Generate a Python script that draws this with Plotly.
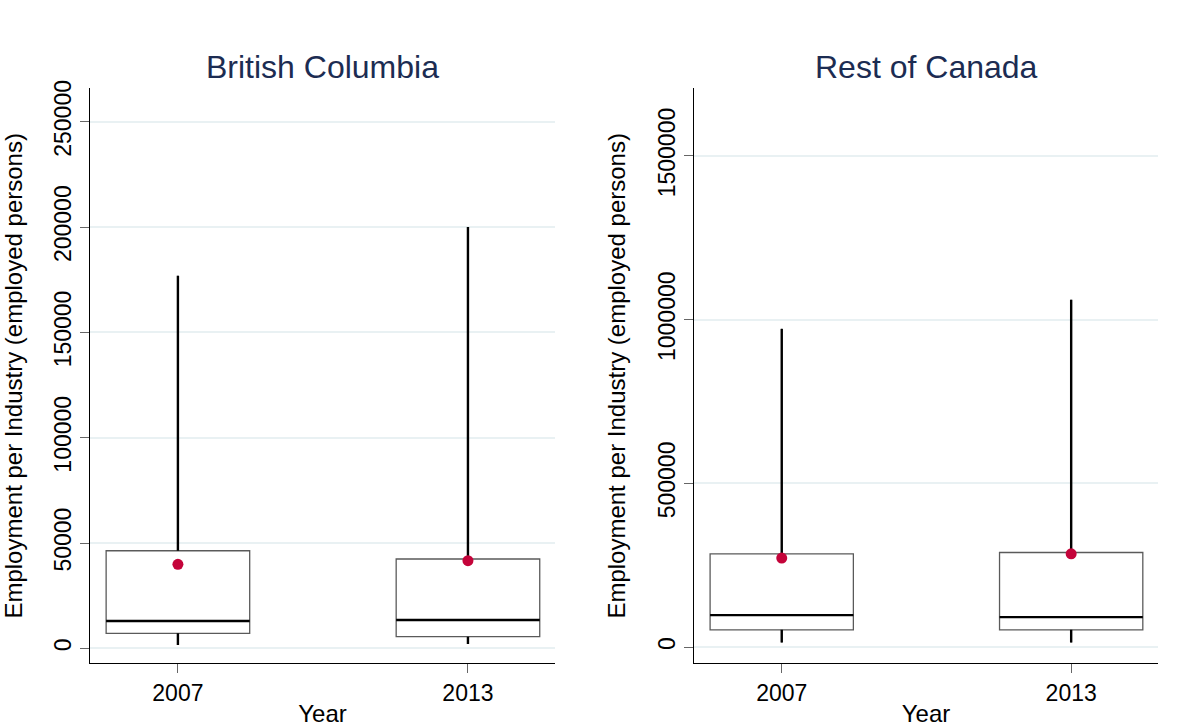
import plotly.graph_objects as go

# Summary statistics of employment per industry (employed persons)
years = ["2007", "2013"]

bc_min = [1570, 2040]
bc_q1 = [7120, 5510]
bc_median = [12960, 13440]
bc_q3 = [46340, 42400]
bc_max = [176900, 200000]
bc_mean = [39880, 41590]

roc_min = [14000, 14000]
roc_q1 = [52800, 52800]
roc_median = [97700, 91600]
roc_q3 = [284900, 288900]
roc_max = [972000, 1060700]
roc_mean = [271800, 284900]

bc_ticks = [0, 50000, 100000, 150000, 200000, 250000]
roc_ticks = [0, 500000, 1000000, 1500000]

FONT = "Arial, Liberation Sans, sans-serif"
BOX_W = 0.495
GRID = "#e9f1f3"
MEAN_RED = "#c4043a"

fig = go.Figure()


def add_panel(fig, xa, ya, mn, q1, med, q3, mx, mean):
    pos = list(range(len(years)))
    fig.add_trace(go.Box(
        x=pos, q1=q1, median=med, q3=q3, lowerfence=mn, upperfence=mx,
        width=BOX_W, whiskerwidth=0, fillcolor="white",
        line=dict(color="#5a5a5a", width=1.3), boxpoints=False,
        hoverinfo="skip", showlegend=False, xaxis=xa, yaxis=ya,
    ))
    # whiskers
    wx, wy = [], []
    for i in pos:
        wx += [i, i, None, i, i, None]
        wy += [q3[i], mx[i], None, mn[i], q1[i], None]
    fig.add_trace(go.Scatter(
        x=wx, y=wy, mode="lines", line=dict(color="black", width=2.4),
        showlegend=False, hoverinfo="skip", xaxis=xa, yaxis=ya,
    ))
    # medians
    mxs, mys = [], []
    for i in pos:
        mxs += [i - BOX_W / 2, i + BOX_W / 2, None]
        mys += [med[i], med[i], None]
    fig.add_trace(go.Scatter(
        x=mxs, y=mys, mode="lines", line=dict(color="black", width=2.4),
        showlegend=False, hoverinfo="skip", xaxis=xa, yaxis=ya,
    ))
    # means
    fig.add_trace(go.Scatter(
        x=pos, y=mean, mode="markers",
        marker=dict(color=MEAN_RED, size=11, line=dict(width=0)),
        showlegend=False, xaxis=xa, yaxis=ya,
    ))


add_panel(fig, "x", "y", bc_min, bc_q1, bc_median, bc_q3, bc_max, bc_mean)
add_panel(fig, "x2", "y2", roc_min, roc_q1, roc_median, roc_q3, roc_max, roc_mean)

tick_font = dict(family=FONT, size=23, color="black")
title_font = dict(family=FONT, size=24, color="black")

xcommon = dict(
    range=[-0.303, 1.30], tickvals=[0, 1], ticktext=years,
    showline=True, linecolor="black", linewidth=1.2,
    ticks="outside", ticklen=9, tickcolor="#666666", tickwidth=1.3,
    showgrid=False, zeroline=False, tickfont=tick_font,
    title=dict(text="Year", font=title_font, standoff=2),
    automargin=False, fixedrange=True,
)
ycommon = dict(
    showline=True, linecolor="black", linewidth=1.2,
    ticks="outside", ticklen=9, tickcolor="#666666", tickwidth=1.3,
    showgrid=True, gridcolor=GRID, gridwidth=1.5, zeroline=False,
    tickangle=-90, tickfont=tick_font,
    title=dict(text="Employment per Industry (employed persons)",
               font=title_font, standoff=21),
    automargin=False, fixedrange=True,
)

y_dom = [0.0876, 0.8785]
fig.update_layout(
    width=1202, height=727,
    margin=dict(l=0, r=0, t=0, b=0),
    paper_bgcolor="white", plot_bgcolor="white",
    font=dict(family=FONT),
    xaxis=dict(domain=[0.0749, 0.4617], anchor="y", **xcommon),
    xaxis2=dict(domain=[0.5774, 0.9634], anchor="y2", **xcommon),
    yaxis=dict(domain=y_dom, anchor="x", range=[-7120, 265900],
               tickvals=bc_ticks, ticktext=[str(v) for v in bc_ticks], **ycommon),
    yaxis2=dict(domain=y_dom, anchor="x2", range=[-49500, 1706600],
                tickvals=roc_ticks, ticktext=[str(v) for v in roc_ticks], **ycommon),
    annotations=[
        dict(text="British Columbia", x=(0.0749 + 0.4617) / 2, y=0.9083,
             xref="paper", yref="paper", xanchor="center", yanchor="middle",
             showarrow=False, font=dict(family=FONT, size=32, color="#1c2c52")),
        dict(text="Rest of Canada", x=(0.5774 + 0.9634) / 2, y=0.9083,
             xref="paper", yref="paper", xanchor="center", yanchor="middle",
             showarrow=False, font=dict(family=FONT, size=32, color="#1c2c52")),
    ],
)

fig.write_html("out.html")
